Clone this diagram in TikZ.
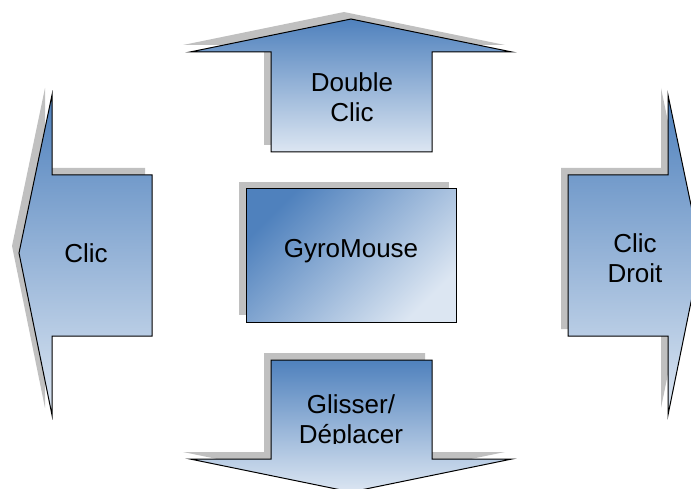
\documentclass[tikz,border=0pt]{standalone}
\usepackage{fontspec}
\setmainfont{Liberation Sans}
\usetikzlibrary{shadows}

\definecolor{darkblue}{RGB}{79,129,189}
\definecolor{paleblue}{RGB}{220,230,242}
\definecolor{shadowgray}{RGB}{192,192,192}

\tikzset{
  block/.style={draw=black, line width=1pt, line join=miter,
    top color=darkblue, bottom color=paleblue,
    drop shadow={shadow xshift=-7pt, shadow yshift=7pt, fill=shadowgray, opacity=1}},
  label/.style={align=center, font=\fontsize{26}{30}\selectfont, inner sep=0pt}
}

\begin{document}
\begin{tikzpicture}[x=1pt, y=1pt]
  \useasboundingbox (0,0) rectangle (691,488);
  \clip (0,0) rectangle (691,488);

  % fleche haut
  \draw[block] (351,469) -- (512,436) -- (432,436) -- (432,336)
    -- (271,336) -- (271,436) -- (190,436) -- cycle;
  \node[label] (dclic) at (352,391) {Double\\Clic};

  % fleche gauche
  \draw[block] (19,235) -- (52,393) -- (52,313) -- (152,313)
    -- (152,152) -- (52,152) -- (52,73) -- cycle;
  \node[label] (clic) at (86,235) {Clic};

  % fleche droite
  \draw[block] (701,235) -- (668,393) -- (668,313) -- (568,313)
    -- (568,152) -- (668,152) -- (668,73) -- cycle;
  \node[label] (cdroit) at (635,230) {Clic\\Droit};

  % fleche bas
  \draw[block] (271,128) -- (432,128) -- (432,29) -- (512,29)
    -- (351,-4) -- (190,29) -- (271,29) -- cycle;
  \begin{scope}
    \clip (271,45) rectangle (432,128);
    \node[label] (glisser) at (351,66) {Glisser/\\D\'eplacer};
  \end{scope}

  % bloc central
  \draw[block, shading angle=45] (246,166) rectangle (456,299);
  \node[label] (gyro) at (351,237) {GyroMouse};
\end{tikzpicture}
\end{document}
